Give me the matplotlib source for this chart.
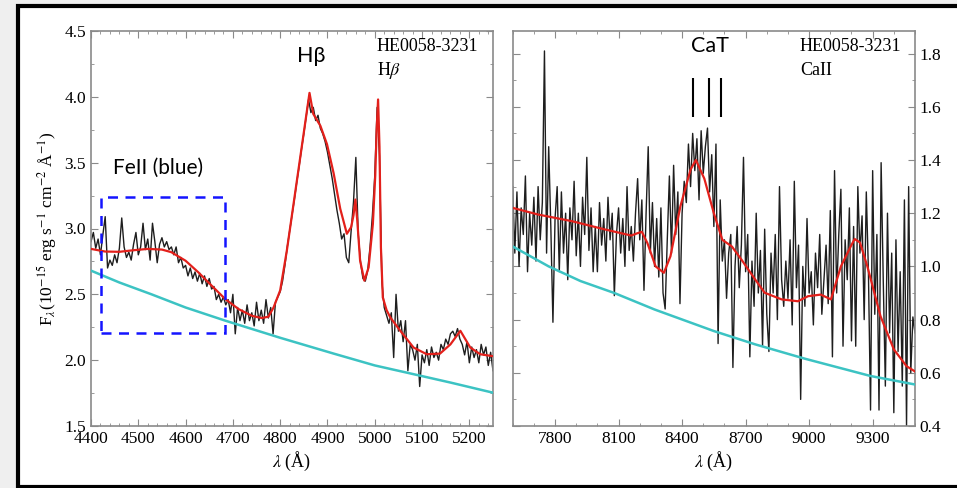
import numpy as np
import matplotlib
matplotlib.use("Agg")
import matplotlib.pyplot as plt
from matplotlib.patches import Rectangle
from matplotlib.ticker import MultipleLocator, FormatStrFormatter

# ---- Hbeta region (left panel) ----
wave_hb = np.arange(4400, 5251, 5)
flux_hb = [
    2.90, 2.97, 2.85, 2.92, 2.80, 2.95, 3.09, 2.70, 2.76, 2.72,
    2.80, 2.74, 2.85, 3.08, 2.86, 2.78, 2.82, 2.76, 2.88, 2.97,
    2.80, 2.86, 3.04, 2.84, 2.92, 2.76, 3.04, 2.90, 2.74, 2.88,
    2.93, 2.86, 2.90, 2.84, 2.86, 2.80, 2.86, 2.74, 2.78, 2.70,
    2.72, 2.64, 2.70, 2.62, 2.67, 2.60, 2.66, 2.58, 2.64, 2.56,
    2.62, 2.54, 2.56, 2.46, 2.50, 2.44, 2.48, 2.42, 2.46, 2.36,
    2.50, 2.20, 2.40, 2.30, 2.38, 2.28, 2.42, 2.30, 2.36, 2.26,
    2.44, 2.30, 2.38, 2.28, 2.46, 2.32, 2.40, 2.20, 2.44, 2.48,
    2.52, 2.60, 2.72, 2.86, 2.98, 3.10, 3.22, 3.35, 3.47, 3.60,
    3.72, 3.85, 3.98, 3.88, 3.92, 3.82, 3.86, 3.76, 3.72, 3.66,
    3.58, 3.48, 3.38, 3.26, 3.14, 3.04, 2.92, 2.96, 2.78, 2.74,
    2.98, 3.20, 3.54, 2.96, 2.74, 2.62, 2.60, 2.68, 2.86, 3.10,
    3.40, 3.92, 3.55, 2.60, 2.40, 2.34, 2.28, 2.36, 2.02, 2.50,
    2.22, 2.30, 2.14, 2.30, 1.92, 2.12, 2.08, 2.00, 2.12, 1.80,
    2.04, 1.98, 2.08, 1.96, 2.10, 2.02, 2.06, 2.00, 2.12, 2.08,
    2.16, 2.12, 2.20, 2.22, 2.18, 2.24, 2.16, 2.12, 2.04, 2.14,
    1.98, 2.10, 2.02, 2.08, 1.98, 2.12, 2.04, 2.10, 1.96, 2.06,
    1.92,
]
model_hb_w = [4400, 4430, 4460, 4490, 4520, 4550, 4570, 4600, 4627, 4655,
              4684, 4712, 4740, 4761, 4775, 4786, 4800, 4814, 4838, 4862,
              4870, 4885, 4899, 4913, 4927, 4941, 4950, 4955, 4959, 4963,
              4969, 4978, 4987, 4996, 5001, 5004, 5007, 5010, 5013, 5017,
              5025, 5033, 5054, 5082, 5110, 5138, 5160, 5181, 5202, 5223, 5250]
model_hb_f = [2.845, 2.825, 2.823, 2.835, 2.845, 2.84, 2.82, 2.755, 2.667, 2.566,
              2.464, 2.388, 2.337, 2.32, 2.33, 2.40, 2.53, 2.83, 3.43, 4.03,
              3.87, 3.78, 3.64, 3.42, 3.15, 2.96, 3.01, 3.10, 3.22, 3.06,
              2.756, 2.604, 2.705, 3.035, 3.40, 3.75, 3.98, 3.62, 2.857, 2.476,
              2.38, 2.324, 2.223, 2.096, 2.045, 2.05, 2.12, 2.223, 2.096, 2.045, 2.03]
cont_hb_w = [4400, 4460, 4528, 4600, 4684, 4800, 4913, 5000, 5068, 5160, 5250]
cont_hb_f = [2.68, 2.59, 2.50, 2.40, 2.30, 2.17, 2.05, 1.96, 1.905, 1.83, 1.753]
feii_box = [4421, 4684, 2.205, 3.24]   # x0, x1, y0, y1

# ---- CaII region (right panel) ----
wave_ca = np.arange(7600, 9501, 10)
flux_ca = [
    1.30, 1.05, 1.28, 1.00, 1.22, 1.12, 1.34, 0.98, 1.20, 1.08,
    1.26, 1.02, 1.30, 1.10, 1.24, 1.81, 1.05, 1.45, 1.15, 0.79,
    1.18, 1.30, 0.98, 1.28, 1.05, 1.20, 0.95, 1.22, 1.10, 1.32,
    1.04, 1.20, 1.00, 1.26, 1.12, 1.41, 1.06, 1.22, 0.98, 1.15,
    0.98, 1.24, 1.08, 1.18, 1.02, 1.26, 1.10, 1.20, 0.89, 1.12,
    1.22, 1.05, 1.18, 1.00, 1.30, 1.06, 1.15, 1.02, 1.20, 1.33,
    1.10, 1.25, 0.91, 1.20, 1.45, 1.05, 1.24, 1.00, 1.18, 0.96,
    1.22, 0.90, 0.84, 1.10, 1.34, 1.05, 1.38, 1.12, 1.28, 0.86,
    1.20, 1.32, 1.24, 1.46, 1.30, 1.50, 1.36, 1.48, 1.25, 1.51,
    1.35, 1.45, 1.52, 1.28, 1.42, 1.15, 1.46, 0.71, 1.25, 1.02,
    1.10, 0.88, 1.05, 1.12, 0.62, 1.00, 1.15, 0.92, 1.08, 1.41,
    0.98, 1.12, 0.66, 1.02, 0.85, 1.20, 0.90, 1.06, 0.70, 1.14,
    0.82, 0.68, 1.05, 0.90, 1.12, 0.80, 1.30, 0.95, 0.85, 1.02,
    0.88, 1.10, 0.78, 1.32, 0.92, 1.08, 0.50, 1.00, 0.85, 1.18,
    0.90, 0.98, 0.78, 1.05, 0.92, 1.12, 0.82, 0.95, 1.08, 0.86,
    1.21, 0.66, 1.36, 0.90, 1.12, 1.29, 0.70, 1.10, 0.95, 1.22,
    0.72, 1.15, 0.70, 1.30, 1.05, 1.19, 0.80, 1.28, 0.98, 0.46,
    1.36, 0.82, 1.12, 0.46, 1.39, 0.95, 0.55, 1.20, 0.75, 1.05,
    0.45, 1.10, 0.68, 0.98, 0.55, 1.25, 0.40, 1.30, 0.60, 0.81,
    0.75,
]
model_ca_w = [7600, 7720, 7880, 8030, 8160, 8190, 8210, 8236, 8275, 8314,
              8345, 8392, 8440, 8465, 8505, 8550, 8590, 8635, 8680, 8745,
              8790, 8870, 8947, 8995, 9055, 9103, 9150, 9197, 9215, 9240,
              9275, 9337, 9400, 9460, 9500]
model_ca_f = [1.22, 1.195, 1.17, 1.14, 1.116, 1.125, 1.13, 1.088, 1.0, 0.976,
              1.038, 1.226, 1.364, 1.40, 1.33, 1.20, 1.10, 1.075, 1.026, 0.951,
              0.901, 0.876, 0.869, 0.888, 0.894, 0.876, 1.0, 1.076, 1.103, 1.09,
              1.0, 0.813, 0.688, 0.625, 0.605]
cont_ca_w = [7600, 7770, 7920, 8080, 8270, 8550, 8745, 8980, 9290, 9500]
cont_ca_f = [1.075, 1.0, 0.945, 0.90, 0.838, 0.757, 0.707, 0.653, 0.588, 0.556]
cat_lines = [8451, 8525, 8583]

serif = "Liberation Serif"
plt.rcParams["font.family"] = [serif, "DejaVu Serif"]
plt.rcParams["mathtext.fontset"] = "stix"
sans = ["Lato", "DejaVu Sans"]

fig = plt.figure(figsize=(9.57, 4.88), dpi=100)
fig.patch.set_facecolor("#efefef")
frame = Rectangle((17.5 / 957, 1.5 / 488), 1.0, 481 / 488,
                  transform=fig.transFigure, facecolor="white",
                  edgecolor="black", linewidth=3, zorder=-10)
fig.patches.append(frame)

ax1 = fig.add_axes([91 / 957, 1 - 426 / 488, 402 / 957, 395 / 488])
ax2 = fig.add_axes([512.7 / 957, 1 - 426 / 488, 402.3 / 957, 395 / 488])

# left panel
ax1.plot(wave_hb, flux_hb, color="#1e1e1e", lw=1.0, zorder=2)
ax1.plot(model_hb_w, model_hb_f, color="#e3201b", lw=1.6, zorder=3)
ax1.plot(cont_hb_w, cont_hb_f, color="#3cc3c3", lw=1.8, zorder=3)
ax1.add_patch(Rectangle((feii_box[0], feii_box[2]), feii_box[1] - feii_box[0],
                        feii_box[3] - feii_box[2], fill=False, edgecolor="#1414ff",
                        linestyle=(0, (4, 3)), linewidth=1.8, zorder=4))
ax1.set_xlim(4400, 5250)
ax1.set_ylim(1.5, 4.5)
ax1.xaxis.set_major_locator(MultipleLocator(100))
ax1.xaxis.set_minor_locator(MultipleLocator(20))
ax1.yaxis.set_major_locator(MultipleLocator(0.5))
ax1.yaxis.set_minor_locator(MultipleLocator(0.25))
ax1.xaxis.set_major_formatter(FormatStrFormatter("%d"))
ax1.yaxis.set_major_formatter(FormatStrFormatter("%.1f"))
ax1.set_xlabel(r"$\lambda$ (Å)", fontsize=13, labelpad=2)
ax1.set_ylabel(r"F$_\lambda$(10$^{-15}$ erg s$^{-1}$ cm$^{-2}$ Å$^{-1}$)",
               fontsize=12.5, labelpad=4)
ax1.text(0.711, 0.962, "HE0058-3231", transform=ax1.transAxes,
         fontsize=13, va="center")
ax1.text(0.711, 0.901, r"H$\beta$", transform=ax1.transAxes,
         fontsize=13, va="center")
ax1.text(0.547, 0.937, "Hβ", transform=ax1.transAxes, family=sans,
         fontsize=15.5, ha="center", va="center")
ax1.text(0.0547, 0.653, "FeII (blue)", transform=ax1.transAxes, family=sans,
         fontsize=15, va="center")

# right panel
ax2.plot(wave_ca, flux_ca, color="#1e1e1e", lw=1.0, zorder=2)
ax2.plot(model_ca_w, model_ca_f, color="#e3201b", lw=1.6, zorder=3)
ax2.plot(cont_ca_w, cont_ca_f, color="#3cc3c3", lw=1.8, zorder=3)
ax2.vlines(cat_lines, 1.563, 1.709, color="black", lw=1.5)
ax2.set_xlim(7600, 9500)
ax2.set_ylim(0.4, 1.885)
ax2.xaxis.set_major_locator(MultipleLocator(300))
ax2.xaxis.set_minor_locator(MultipleLocator(100))
ax2.yaxis.set_major_locator(MultipleLocator(0.2))
ax2.yaxis.set_minor_locator(MultipleLocator(0.1))
ax2.xaxis.set_major_formatter(FormatStrFormatter("%d"))
ax2.yaxis.set_major_formatter(FormatStrFormatter("%.1f"))
ax2.set_xlabel(r"$\lambda$ (Å)", fontsize=13, labelpad=2)
ax2.text(0.714, 0.962, "HE0058-3231", transform=ax2.transAxes,
         fontsize=13, va="center")
ax2.text(0.714, 0.901, "CaII", transform=ax2.transAxes,
         fontsize=13, va="center")
ax2.text(0.490, 0.962, "CaT", transform=ax2.transAxes, family=sans,
         fontsize=15.5, ha="center", va="center")

for ax in (ax1, ax2):
    for sp in ax.spines.values():
        sp.set_color("#8a8a8a")
        sp.set_linewidth(1.2)
    ax.tick_params(which="both", direction="in", top=True, right=True,
                   color="#8a8a8a", labelsize=12.5, labelfontfamily=serif)
    ax.tick_params(which="major", length=5)
    ax.tick_params(which="minor", length=2.5)

ax2.tick_params(which="both", labelleft=False, labelright=True)

fig.savefig("out.png", dpi=100, facecolor=fig.get_facecolor())
